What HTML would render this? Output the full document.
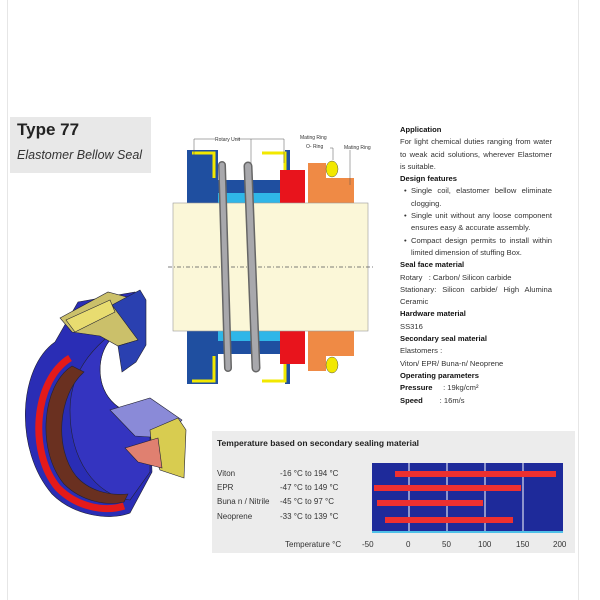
<!DOCTYPE html><html><head><style>
body{margin:0;width:600px;height:600px;background:#fff;position:relative;overflow:hidden;font-family:"Liberation Sans",sans-serif}
.a{position:absolute}
.t{font-size:7.6px;color:#333;line-height:12.3px}
.t b{color:#111}
.bl{padding-left:11px;position:relative}
.bl span{position:absolute;left:4px}
</style></head><body>
<div class="a" style="left:7px;top:0;width:1px;height:600px;background:#e6e6e6"></div>
<div class="a" style="left:578px;top:0;width:1px;height:600px;background:#e6e6e6"></div>
<div class="a" style="left:10px;top:117px;width:141px;height:56px;background:#e8e8e8"></div>
<div class="a" style="left:17px;top:120px;font-size:17px;font-weight:bold;color:#222">Type 77</div>
<div class="a" style="left:17px;top:148px;font-size:12.5px;font-style:italic;color:#333">Elastomer Bellow Seal</div>

<svg class="a" style="left:0;top:0" width="600" height="600">
<!-- 3D seal -->
<g stroke="#223" stroke-width="0.6">
<path d="M55 342 C18 368 14 450 52 494 C74 516 110 521 130 513 L152 472 L150 414 C122 418 100 398 100 370 C100 348 112 332 135 322 L135 292 L78 302 Z" fill="#2a2db5"/>
<path d="M100 370 C100 398 122 418 150 414 L150 472 L130 500 C95 495 70 460 70 410 C70 380 85 355 110 335 L135 322 C112 332 100 348 100 370Z" fill="#3434c0"/>
<path d="M72 366 C42 385 36 450 64 484 C82 502 108 506 124 502 L128 494 C108 496 88 490 76 476 C54 448 58 395 84 372 Z" fill="#6a3020"/>
<path d="M70 358 C34 380 28 452 58 488 C78 508 106 512 124 506" stroke="#e41a1a" stroke-width="7" fill="none"/>
<path d="M60 318 L108 292 L138 300 L138 340 L118 346 L100 336 L72 332 Z" fill="#cbc06a"/>
<path d="M112 305 L140 290 L146 300 L146 345 L136 362 L122 372 L118 346 L138 340Z" fill="#2a40b0"/>
<path d="M66 320 L110 300 L115 312 L75 332Z" fill="#e8dc70"/>
<path d="M110 410 L150 398 L182 420 L165 438 L135 436 Z" fill="#8a8ad8"/>
<path d="M150 430 L178 418 L186 430 L184 478 L160 470 L152 450Z" fill="#d8cc50"/>
<path d="M125 448 L158 438 L162 468 L138 462 Z" fill="#e08070"/>
</g>
<!-- cross section -->
<path d="M187 150 H218 V180 H285 V150 H290 V203 H187Z" fill="#1f4fa0"/>
<path d="M187 384 H218 V354 H285 V384 H290 V331 H187Z" fill="#1f4fa0"/>
<path d="M192 153 H214 V178 M262 153 H285 V175 M262 381 H285 V358 M192 381 H214 V356" stroke="#f2e800" stroke-width="3" fill="none"/>
<rect x="218" y="193" width="64" height="10" fill="#2fb6e8"/>
<rect x="218" y="331" width="64" height="10" fill="#2fb6e8"/>
<path d="M280 170 H305 V203 H280 V185Z" fill="#e8141c"/>
<path d="M280 364 H305 V331 H280 V349Z" fill="#e8141c"/>
<path d="M308 163 H326 V178 H354 V203 H308Z" fill="#ef8a45"/>
<path d="M308 371 H326 V356 H354 V331 H308Z" fill="#ef8a45"/>
<ellipse cx="332" cy="169" rx="6" ry="8" fill="#f2e800" stroke="#555" stroke-width="0.5"/>
<ellipse cx="332" cy="365" rx="6" ry="8" fill="#f2e800" stroke="#555" stroke-width="0.5"/>
<rect x="173" y="203" width="195" height="128" fill="#fbf7d8" stroke="#999" stroke-width="0.6"/>
<line x1="168" y1="267" x2="375" y2="267" stroke="#555" stroke-dasharray="4 2 1 2" stroke-width="0.8"/>
<line x1="222" y1="165" x2="228" y2="368" stroke="#666" stroke-width="8" stroke-linecap="round"/>
<line x1="222" y1="165" x2="228" y2="368" stroke="#a8a8ac" stroke-width="5" stroke-linecap="round"/>
<line x1="248" y1="166" x2="256" y2="368" stroke="#666" stroke-width="9" stroke-linecap="round"/>
<line x1="248" y1="166" x2="256" y2="368" stroke="#a8a8ac" stroke-width="6" stroke-linecap="round"/>
<path d="M194 155 V139 H215 M237 139 H284 V163 M251 139 V163 M330 148 H333 V160 M350 150 V185" stroke="#555" stroke-width="0.5" fill="none"/>
<text x="215" y="141" font-size="5" fill="#333">Rotary Unit</text>
<text x="300" y="139" font-size="5" fill="#333">Mating Ring</text>
<text x="306" y="148" font-size="5" fill="#333">O- Ring</text>
<text x="344" y="149" font-size="5" fill="#333">Mating Ring</text>
<!-- chart -->
<rect x="212" y="431" width="363" height="122" fill="#ececec"/>
<text x="217" y="446" font-size="8.5" font-weight="bold" fill="#222">Temperature based on secondary sealing material</text>
<rect x="372" y="463" width="191" height="70" fill="#1e2a9a"/>
<rect x="372" y="531" width="191" height="2" fill="#4fc0e8"/>
<g stroke="#fff" stroke-width="1"><line x1="409" y1="463" x2="409" y2="531"/><line x1="447" y1="463" x2="447" y2="531"/><line x1="485" y1="463" x2="485" y2="531"/><line x1="523" y1="463" x2="523" y2="531"/></g>
<g fill="#ee3030"><rect x="395" y="471" width="161" height="6"/><rect x="374" y="485" width="147" height="6"/><rect x="377" y="500" width="106" height="6"/><rect x="385" y="517" width="128" height="6"/></g>
<g font-size="8" fill="#333">
<text x="217" y="476">Viton</text><text x="280" y="476">-16 °C to 194 °C</text>
<text x="217" y="490">EPR</text><text x="280" y="490">-47 °C to 149 °C</text>
<text x="217" y="504">Buna n / Nitrile</text><text x="280" y="504">-45 °C to  97 °C</text>
<text x="217" y="519">Neoprene</text><text x="280" y="519">-33 °C to 139 °C</text>
<text x="285" y="547">Temperature  °C</text>
<text x="362" y="547">-50</text><text x="406" y="547">0</text><text x="442" y="547">50</text><text x="478" y="547">100</text><text x="516" y="547">150</text><text x="553" y="547">200</text>
</g>
</svg>

<div class="a t" style="left:400px;top:124px;width:152px;text-align:justify">
<b>Application</b><br>For light chemical duties ranging from water to weak acid solutions, wherever Elastomer is suitable.<br>
<b>Design features</b>
<div class="bl"><span>•</span>Single coil, elastomer bellow eliminate clogging.</div>
<div class="bl"><span>•</span>Single unit without any loose component ensures easy &amp; accurate assembly.</div>
<div class="bl"><span>•</span>Compact design permits to install within limited dimension of stuffing Box.</div>
<b>Seal face material</b><br>Rotary &nbsp;&nbsp;: Carbon/ Silicon carbide<br>Stationary: Silicon carbide/ High Alumina Ceramic<br>
<b>Hardware material</b><br>SS316<br>
<b>Secondary seal material</b><br>Elastomers :<br>Viton/ EPR/ Buna-n/ Neoprene<br>
<b>Operating parameters</b><br><b>Pressure</b> &nbsp;&nbsp;&nbsp;&nbsp;: 19kg/cm²<br><b>Speed</b> &nbsp;&nbsp;&nbsp;&nbsp;&nbsp;&nbsp;&nbsp;: 16m/s
</div>
</body></html>
